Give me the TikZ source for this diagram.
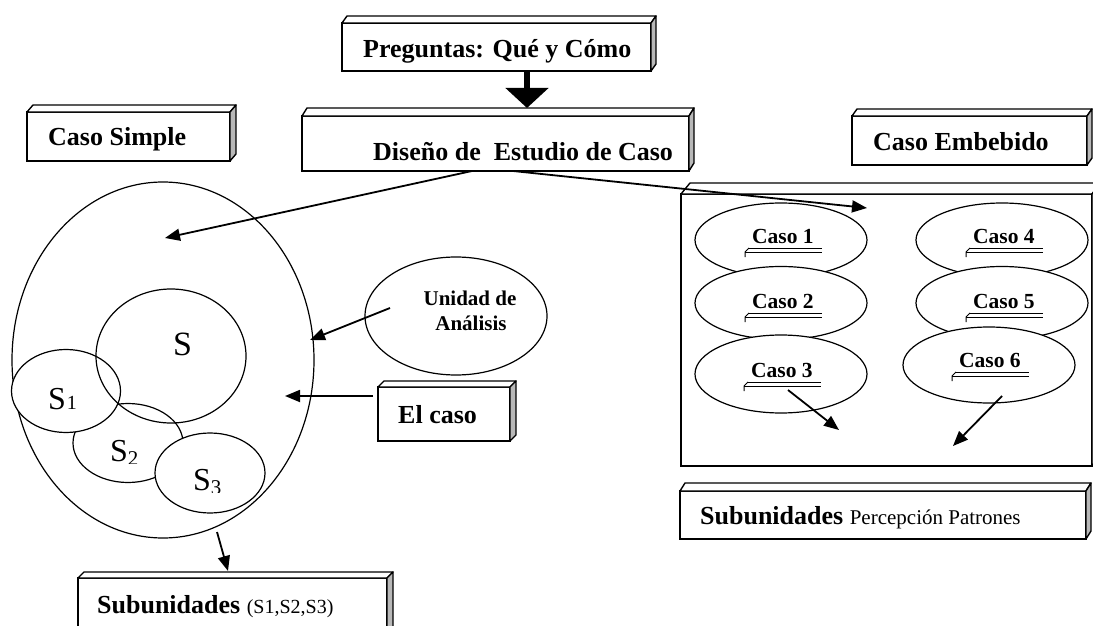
\documentclass[tikz,border=0pt]{standalone}
\usepackage{fontspec}
\setmainfont{Liberation Serif}
\usetikzlibrary{arrows.meta,shapes.geometric}
\definecolor{sidegray}{gray}{0.72}

% 3D box: name, x0, y0, x1, y1, dx, dy
\newcommand\threedbox[7]{%
  \node[frontbox, anchor=north west, minimum width={(#4-#2)*1pt}, minimum height={(#5-#3)*1pt}] (#1) at (#2,#3) {};
  \draw[boxline, fill=white] (#1.north west) -- ++(#6,-#7) -- ([shift={(#6,-#7)}]#1.north east) -- (#1.north east) -- cycle;
  \draw[boxline, fill=sidegray] (#1.north east) -- ++(#6,-#7) -- ([shift={(#6,-#7)}]#1.south east) -- (#1.south east) -- cycle;
}
% underlined case label: name, x, y, text
\newcommand\caselabel[4]{%
  \node[lblC] (#1) at (#2,#3) {#4};
  \draw[uline] ([shift={(-3,5)}]#1.base west) -- ++(73,0);
  \draw[uline] ([shift={(-7,9)}]#1.base west) -- ++(77,0);
  \draw[uline] ([shift={(-3,5)}]#1.base west) -- ([shift={(-7,9)}]#1.base west) -- ++(0,5);
}

\begin{document}
\begin{tikzpicture}[x=1pt,y=-1pt,
  frontbox/.style={draw, line width=1.4pt, fill=white, inner sep=0pt, outer sep=0pt},
  boxline/.style={line width=1.4pt, line join=round},
  lblB/.style={font=\fontsize{26}{30}\selectfont\bfseries, inner sep=0pt, anchor=base west},
  lblC/.style={font=\fontsize{21.5}{25}\selectfont\bfseries, inner sep=0pt, anchor=base west},
  lblU/.style={font=\fontsize{21}{25}\selectfont\bfseries, inner sep=0pt, anchor=base},
  lblS/.style={font=\fontsize{32}{36}\selectfont, inner sep=0pt, anchor=base west},
  ell/.style={draw, line width=1.2pt, ellipse, inner sep=0pt, outer sep=0pt},
  wel/.style={ell, fill=white},
  uline/.style={line width=1pt},
  arr/.style={line width=1.8pt, -{Triangle[length=15pt,width=12pt]}},
  bigarr/.style={line width=6pt, -{Triangle[length=20pt,width=42pt]}}
]
\useasboundingbox (0,0) rectangle (1093,626);

% ---------- top boxes ----------
\threedbox{preg}{342}{23}{651}{71}{5}{7}
\node[lblB] (pregt) at (363,58) {Preguntas: Qué y Cómo};

\threedbox{dis}{302}{116}{689}{171}{5}{8}
\node[lblB] (dist) at (373,160) {Diseño de\ \ Estudio de Caso};

\threedbox{simple}{27}{112}{230}{161}{6}{7}
\node[lblB] (simplet) at (48,146) {Caso Simple};

\threedbox{emb}{852}{116}{1087}{165}{5}{7}
\node[lblB] (embt) at (873,150) {Caso Embebido};

% ---------- left: simple case ----------
\node[ell, minimum width=302pt, minimum height=356pt] (caso) at (163,360) {};
\node[wel, minimum width=110pt, minimum height=79pt] (s2) at (128,443) {};
\node[wel, minimum width=110pt, minimum height=80pt] (s3) at (210,473) {};
\node[wel, minimum width=109pt, minimum height=83pt] (s1) at (66,391) {};
\node[ell, minimum width=150pt, minimum height=134pt] (s) at (171,356) {};

\node[lblS, font=\fontsize{34}{36}\selectfont] (st) at (173,355) {S};
\node[lblS] (s1t) at (48,409) {S\kern1pt{\fontsize{20}{20}\selectfont 1}};
\begin{scope}
  \clip (100,430) rectangle (160,463);
  \node[lblS] (s2t) at (110,461) {S\raisebox{-4pt}{\fontsize{21}{20}\selectfont 2}};
\end{scope}
\begin{scope}
  \clip (185,460) rectangle (240,492);
  \node[lblS] (s3t) at (193,490) {S\raisebox{-4pt}{\fontsize{21}{20}\selectfont 3}};
\end{scope}

\node[ell, minimum width=182pt, minimum height=118pt] (unidad) at (456,316) {};
\node[lblU] (unidadt1) at (470,305) {Unidad de};
\node[lblU] (unidadt2) at (471,330) {Análisis};

\threedbox{elcaso}{378}{387}{510}{441}{6}{6}
\node[lblB] (elcasot) at (398,423) {El caso};

\threedbox{subl}{78}{578}{387}{660}{6}{6}
\node[lblB] (sublt) at (97,613) {Subunidades {\mdseries\fontsize{20}{22}\selectfont (S1,S2,S3)}};

% ---------- right: embedded case ----------
\threedbox{rect}{681}{194}{1092}{466}{9}{11}

\node[wel, minimum width=172pt, minimum height=74pt] (c1) at (781,240) {};
\node[wel, minimum width=172pt, minimum height=73pt] (c2) at (781,303) {};
\node[wel, minimum width=172pt, minimum height=78pt] (c3) at (781,374) {};
\node[wel, minimum width=172pt, minimum height=74pt] (c4) at (1002,240) {};
\node[wel, minimum width=172pt, minimum height=73pt] (c5) at (1002,303) {};
\node[wel, minimum width=172pt, minimum height=76pt] (c6) at (989,365) {};

\caselabel{c1t}{752}{243}{Caso 1}
\caselabel{c2t}{752}{308}{Caso 2}
\caselabel{c3t}{751}{377}{Caso 3}
\caselabel{c4t}{973}{243}{Caso 4}
\caselabel{c5t}{973}{308}{Caso 5}
\caselabel{c6t}{959}{367}{Caso 6}

\threedbox{subr}{680}{491}{1086}{539}{5}{8}
\node[lblB] (subrt) at (700,524) {Subunidades {\mdseries\fontsize{21}{24}\selectfont Percepción Patrones}};

% ---------- connectors ----------
\coordinate (p1) at (527,71);
\coordinate (p2) at (527,108);
\draw[bigarr] (p1) -- (p2);

\coordinate (d1) at (472,171);
\coordinate (d1e) at (165,238);
\draw[arr] (d1) -- (d1e);
\coordinate (d2) at (513,171);
\coordinate (d2e) at (867,208);
\draw[arr] (d2) -- (d2e);

\coordinate (u1) at (390,308);
\coordinate (u1e) at (310,340);
\draw[arr] (u1) -- (u1e);

\coordinate (e1) at (373,396);
\coordinate (e1e) at (285,396);
\draw[arr] (e1) -- (e1e);

\coordinate (b1) at (217,532);
\coordinate (b1e) at (228,571);
\draw[arr] (b1) -- (b1e);

\coordinate (k3) at (788,390);
\coordinate (k3e) at (839,430);
\draw[arr] (k3) -- (k3e);
\coordinate (k6) at (1002,396);
\coordinate (k6e) at (953,446);
\draw[arr] (k6) -- (k6e);
\end{tikzpicture}
\end{document}
